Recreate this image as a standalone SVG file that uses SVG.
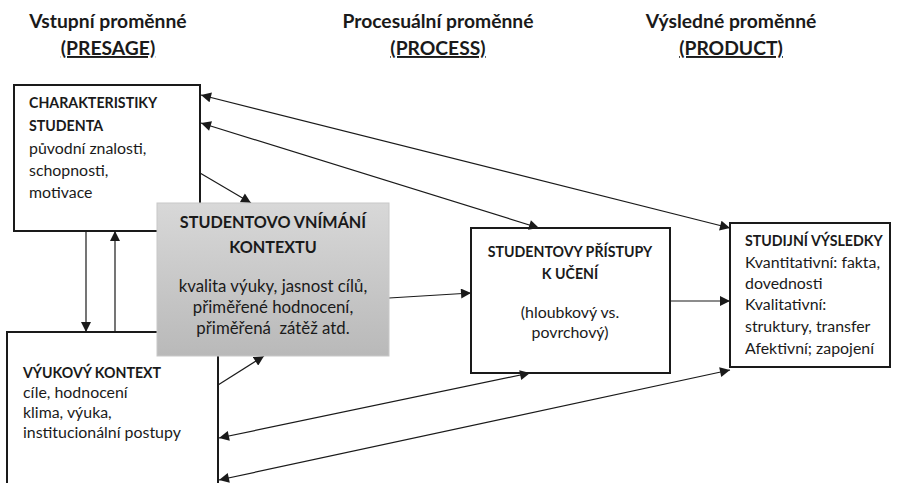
<svg xmlns="http://www.w3.org/2000/svg" width="899" height="483" viewBox="0 0 899 483">
<defs>
<style>
text{font-family:Lato,"Liberation Sans",sans-serif;fill:#1a1a1a}
.h{font-size:19.3px;font-weight:bold;text-anchor:middle}
.u{text-decoration:underline}
.b{font-weight:bold;font-size:14.2px}
.t{font-size:15.9px}
.tg{font-size:16.8px}
.gb{font-size:16.2px;font-weight:bold}
.c{text-anchor:middle}
.box{fill:#fff;stroke:#1a1a1a;stroke-width:2}
.con{fill:none;stroke:#1a1a1a;stroke-width:1.2}
</style>
<linearGradient id="g" x1="0" y1="0" x2="0" y2="1">
<stop offset="0" stop-color="#d8d8d8"/>
<stop offset="1" stop-color="#b9b9b9"/>
</linearGradient>
<marker id="a" viewBox="0 0 10 10" refX="10" refY="5" markerWidth="11" markerHeight="10" markerUnits="userSpaceOnUse" orient="auto-start-reverse">
<path d="M0,0 L10,5 L0,10 z" fill="#1a1a1a"/>
</marker>
</defs>
<g id="headers">
<text class="h" x="108" y="28">Vstupní proměnné</text>
<text class="h u" x="108" y="55">(PRESAGE)</text>
<text class="h" x="438" y="28">Procesuální proměnné</text>
<text class="h u" x="438" y="55">(PROCESS)</text>
<text class="h" x="731" y="28">Výsledné proměnné</text>
<text class="h u" x="731" y="55">(PRODUCT)</text>
</g>
<g id="student">
<rect class="box" x="14" y="85" width="186" height="146"/>
<text class="b" x="29" y="108">CHARAKTERISTIKY</text>
<text class="b" x="29" y="131">STUDENTA</text>
<text class="t" x="29" y="154">původní znalosti,</text>
<text class="t" x="29" y="176">schopnosti,</text>
<text class="t" x="29" y="198">motivace</text>
</g>
<g id="context">
<rect class="box" x="7" y="332" width="211" height="160"/>
<text class="b" x="23" y="378">VÝUKOVÝ KONTEXT</text>
<text class="t" x="23" y="398">cíle, hodnocení</text>
<text class="t" x="23" y="418">klima, výuka,</text>
<text class="t" x="23" y="438">institucionální postupy</text>
</g>
<g id="approaches">
<rect class="box" x="471" y="228" width="199" height="145"/>
<text class="b c" x="570" y="257">STUDENTOVY PŘÍSTUPY</text>
<text class="b c" x="570" y="279">K UČENÍ</text>
<text class="t c" x="570" y="318">(hloubkový vs.</text>
<text class="t c" x="570" y="338">povrchový)</text>
</g>
<g id="outcomes">
<rect class="box" x="730" y="223" width="160" height="144"/>
<text class="b" x="745" y="246">STUDIJNÍ VÝSLEDKY</text>
<text class="t" x="745" y="268">Kvantitativní: fakta,</text>
<text class="t" x="745" y="289">dovednosti</text>
<text class="t" x="745" y="310">Kvalitativní:</text>
<text class="t" x="745" y="332">struktury, transfer</text>
<text class="t" x="745" y="354">Afektivní; zapojení</text>
</g>
<g id="connectors">
<line class="con" x1="86" y1="231" x2="86" y2="332" marker-end="url(#a)"/>
<line class="con" x1="115" y1="332" x2="115" y2="231" marker-end="url(#a)"/>
<line class="con" x1="200" y1="173" x2="251" y2="203" marker-end="url(#a)"/>
<line class="con" x1="218" y1="385" x2="264" y2="356" marker-end="url(#a)"/>
<line class="con" x1="389" y1="298" x2="471" y2="293" marker-end="url(#a)"/>
<line class="con" x1="670" y1="301" x2="730" y2="301" marker-end="url(#a)"/>
<line class="con" x1="201" y1="95" x2="730" y2="228" marker-start="url(#a)" marker-end="url(#a)"/>
<line class="con" x1="201" y1="123" x2="539" y2="228" marker-start="url(#a)" marker-end="url(#a)"/>
<line class="con" x1="219" y1="438" x2="530" y2="373" marker-start="url(#a)" marker-end="url(#a)"/>
<line class="con" x1="219" y1="480" x2="730" y2="370" marker-start="url(#a)" marker-end="url(#a)"/>
</g>
<g id="perception">
<rect x="157" y="203" width="232" height="153" fill="url(#g)" stroke="#c8c8c8" stroke-width="1"/>
<text class="gb c" x="273" y="228">STUDENTOVO VNÍMÁNÍ</text>
<text class="gb c" x="273" y="253">KONTEXTU</text>
<text class="tg c" x="273" y="292">kvalita výuky, jasnost cílů,</text>
<text class="tg c" x="273" y="313">přiměřené hodnocení,</text>
<text class="tg c" x="273" y="334" xml:space="preserve">přiměřená  zátěž atd.</text>
</g>
</svg>
